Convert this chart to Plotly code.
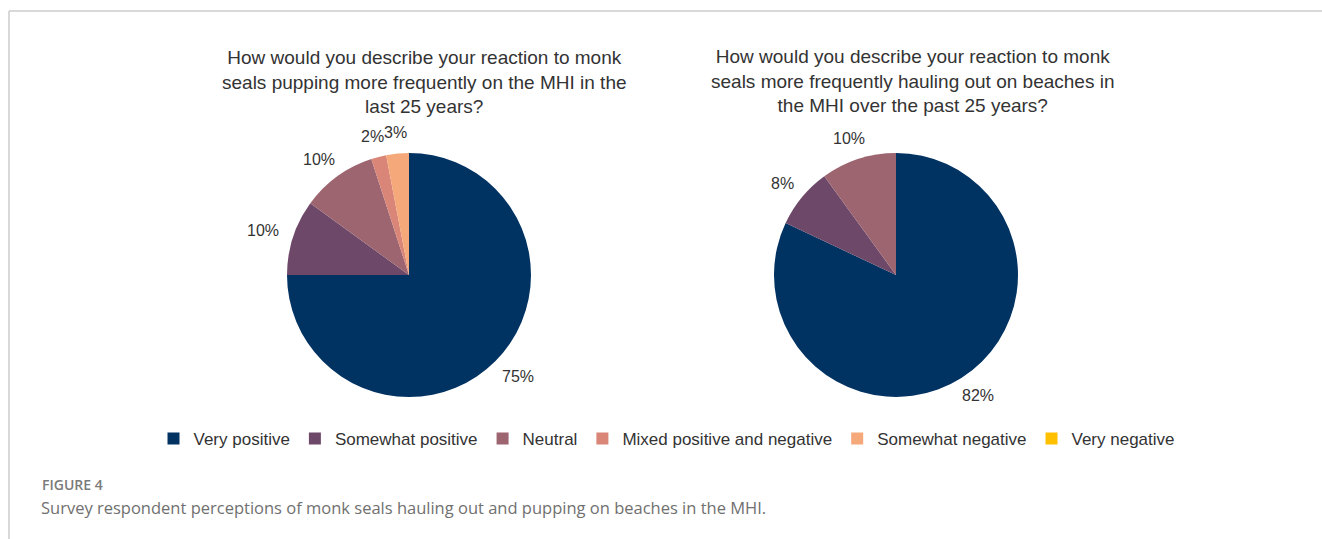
import math
import plotly.graph_objects as go

categories = ["Very positive", "Somewhat positive", "Neutral",
              "Mixed positive and negative", "Somewhat negative", "Very negative"]
pupping_pct = [75, 10, 10, 2, 3, 0]
hauling_pct = [82, 8, 10, 0, 0, 0]
colors = ["#003262", "#6e4868", "#9c6570", "#d98678", "#f5a97a", "#ffc000"]

title_pupping = "How would you describe your reaction to monk<br>seals pupping more frequently on the MHI in the<br>last 25 years?"
title_hauling = "How would you describe your reaction to monk<br>seals more frequently hauling out on beaches in<br>the MHI over the past 25 years?"
fig_label = "FIGURE 4"
caption = "Survey respondent perceptions of monk seals hauling out and pupping on beaches in the MHI."

W, H = 1322, 539
FONT = "Liberation Sans, Arial, sans-serif"
LABEL_SIZE = 16

# pie placement (pixels)
PIE_TOP, PIE_BOTTOM = 153, 397
PIES = [(pupping_pct, 287, 531, title_pupping, 424, 82),
        (hauling_pct, 774, 1018, title_hauling, 912, 81)]

traces, annotations = [], []
for values, px0, px1, title, tx, ty in PIES:
    traces.append(go.Pie(
        labels=categories, values=values, sort=False, direction="clockwise",
        rotation=0, marker=dict(colors=colors, line=dict(width=0)),
        textinfo="none",
        domain=dict(x=[px0 / W, px1 / W], y=[(H - PIE_BOTTOM) / H, (H - PIE_TOP) / H]),
        hoverinfo="label+percent", showlegend=True,
    ))
    annotations.append(dict(text=title, x=tx / W, y=1 - ty / H, xref="paper", yref="paper",
                            xanchor="center", yanchor="middle", showarrow=False,
                            font=dict(family=FONT, size=19, color="#333333")))
    # outside percentage labels derived from the values
    cx, cy = (px0 + px1) / 2, (PIE_TOP + PIE_BOTTOM) / 2
    r = (px1 - px0) / 2
    total = sum(values)
    cum = 0
    for v in values:
        if v:
            ang = 2 * math.pi * (cum + v / 2) / total
            dx, dy = math.sin(ang), -math.cos(ang)
            txt = f"{v}%"
            hw, hh, g = 6.5 * len(txt), 9, 12
            lx = cx + (r + g) * dx + hw * dx
            ly = cy + (r + g) * dy + hh * dy
            annotations.append(dict(text=txt, x=lx / W, y=1 - ly / H, xref="paper", yref="paper",
                                    xanchor="center", yanchor="middle", showarrow=False,
                                    font=dict(family=FONT, size=LABEL_SIZE, color="#333333")))
        cum += v

annotations += [
    dict(text=fig_label, x=40 / W, y=1 - 484 / H, xref="paper", yref="paper",
         xanchor="left", yanchor="middle", showarrow=False,
         font=dict(family="Open Sans, sans-serif", size=14, color="#7a7a7a", weight=600)),
    dict(text=caption, x=39 / W, y=1 - 507 / H, xref="paper", yref="paper",
         xanchor="left", yanchor="middle", showarrow=False,
         font=dict(family="Open Sans, sans-serif", size=16.5, color="#707070")),
]

fig = go.Figure(traces)
fig.update_layout(
    width=W, height=H, margin=dict(l=0, r=0, t=0, b=0),
    paper_bgcolor="white", plot_bgcolor="white",
    font=dict(family=FONT, color="#333333"),
    legend=dict(orientation="h", x=667 / W, xanchor="center", y=1 - 439 / H, yanchor="middle",
                font=dict(family=FONT, size=17, color="#333333"),
                itemwidth=30, bgcolor="rgba(0,0,0,0)"),
    annotations=annotations,
    shapes=[
        dict(type="line", xref="paper", yref="paper", x0=9 / W, x1=1, y0=1 - 11 / H, y1=1 - 11 / H,
             line=dict(color="#cccccc", width=1.5)),
        dict(type="line", xref="paper", yref="paper", x0=9 / W, x1=9 / W, y0=1 - 11 / H, y1=0,
             line=dict(color="#cccccc", width=1.5)),
    ],
)

fig.write_html("out.html", config={"displayModeBar": False},
               post_script="document.body.style.margin='0';document.body.style.overflow='hidden';")
